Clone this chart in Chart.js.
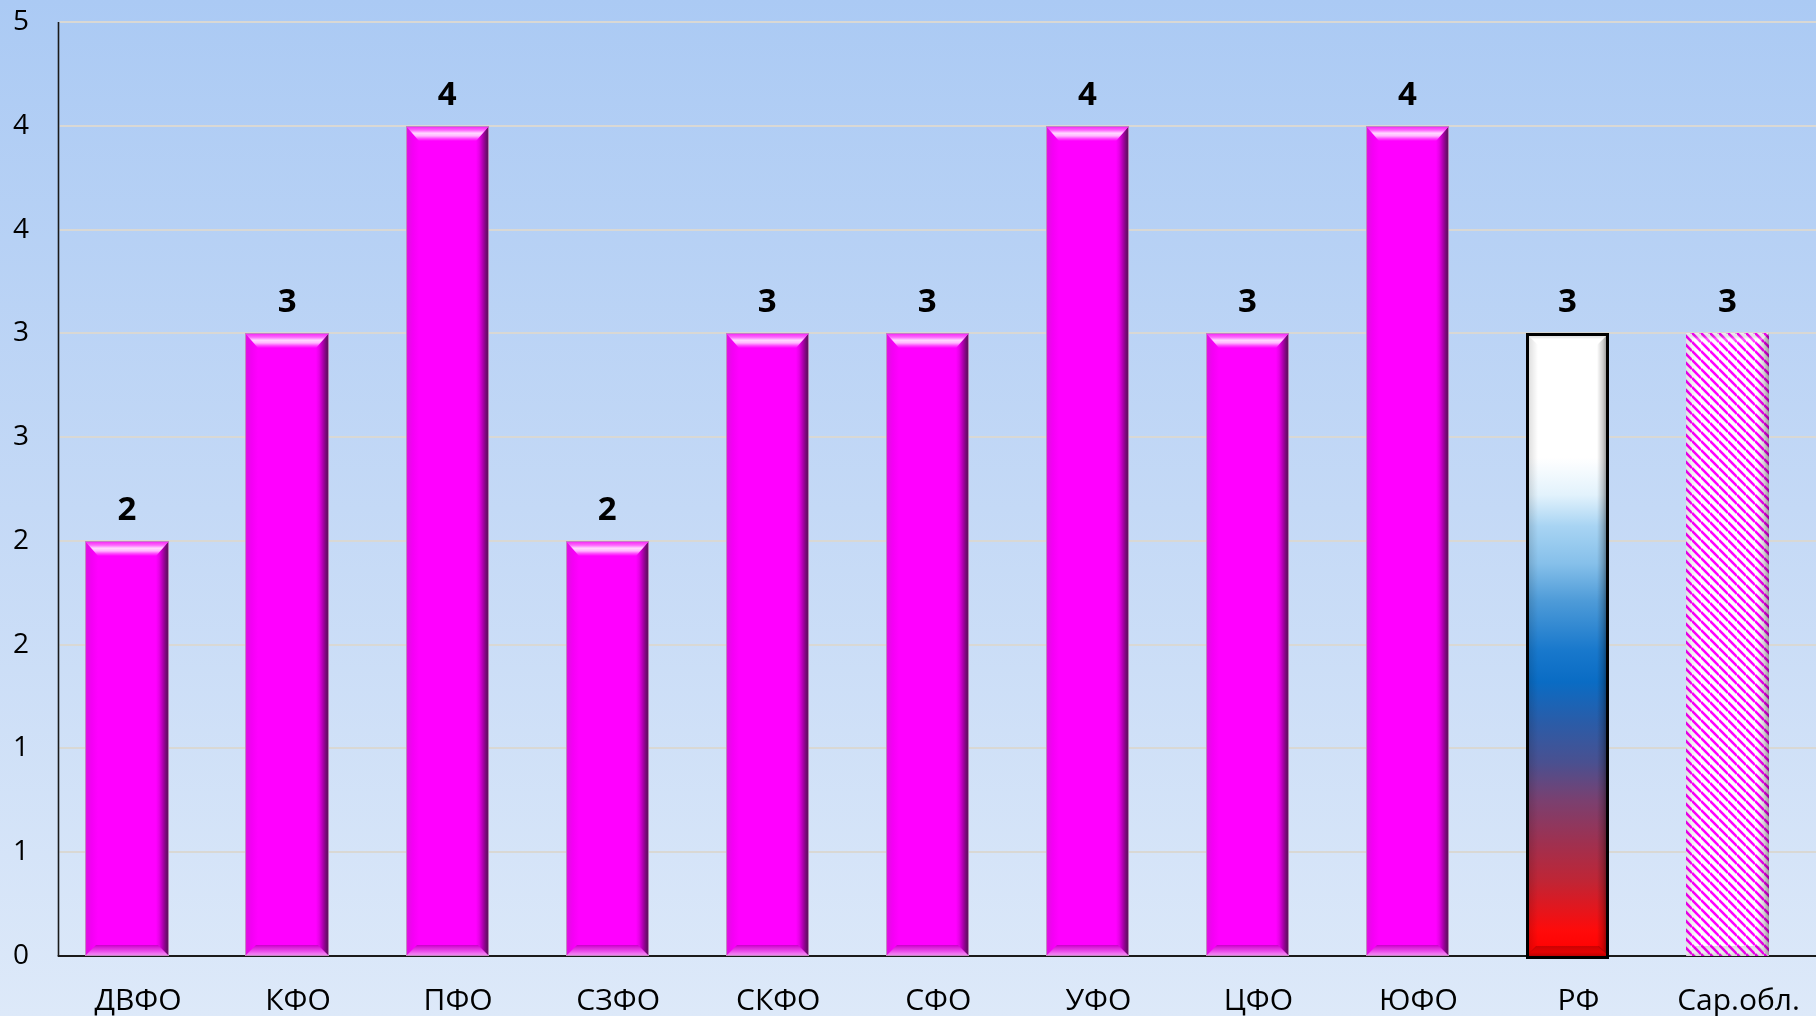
<!DOCTYPE html>
<html lang="ru">
<head>
<meta charset="utf-8">
<title>Показатель по федеральным округам</title>
<script src="https://cdn.jsdelivr.net/npm/chart.js@4.4.1/dist/chart.umd.min.js"></script>
<style>
  html, body { margin: 0; padding: 0; width: 1816px; height: 1016px; overflow: hidden; }
  body { background: linear-gradient(to bottom, #abcaf4 0%, #c4d9f6 50%, #dde9f9 100%); }
  canvas { display: block; }
</style>
</head>
<body>
<canvas id="chart" width="1816" height="1016"></canvas>
<script>
// Federal districts, Russia as a whole and the Saratov region
const categories = ['ДВФО', 'КФО', 'ПФО', 'СЗФО', 'СКФО', 'СФО', 'УФО', 'ЦФО', 'ЮФО', 'РФ', 'Сар.обл.'];
const values = [2, 3, 4, 2, 3, 3, 4, 3, 4, 3, 3];

// Value axis: half-unit steps, labels rounded to whole numbers
const yMin = 0;
const yMax = 4.5;
const yStep = 0.5;
const yTickLabel = v => String(Math.round(v));

const FONT = '"Open Sans", "Noto Sans", "DejaVu Sans", sans-serif';
const flagIndex = categories.indexOf('РФ');
const hatchIndex = categories.indexOf('Сар.обл.');

// Diagonal magenta hatch tile
function makeHatch() {
  const p = 9;
  const tile = document.createElement('canvas');
  tile.width = tile.height = p;
  const c = tile.getContext('2d');
  c.fillStyle = '#ffffff';
  c.fillRect(0, 0, p, p);
  c.strokeStyle = '#ff00ff';
  c.lineWidth = 2.6;
  for (const k of [-1, 0, 1]) {
    c.beginPath();
    c.moveTo(0, k * p);
    c.lineTo(p, k * p + p);
    c.stroke();
  }
  return tile;
}
const hatchTile = makeHatch();

function poly(ctx, pts, fill) {
  ctx.beginPath();
  ctx.moveTo(pts[0][0], pts[0][1]);
  for (let i = 1; i < pts.length; i++) ctx.lineTo(pts[i][0], pts[i][1]);
  ctx.closePath();
  ctx.fillStyle = fill;
  ctx.fill();
}

function hGrad(ctx, xa, xb, stops) {
  const g = ctx.createLinearGradient(xa, 0, xb, 0);
  stops.forEach(s => g.addColorStop(s[0], s[1]));
  return g;
}
function vGrad(ctx, ya, yb, stops) {
  const g = ctx.createLinearGradient(0, ya, 0, yb);
  stops.forEach(s => g.addColorStop(s[0], s[1]));
  return g;
}

// Bevelled magenta column
function paintBevel(ctx, x0, x1, top, bottom) {
  const w = x1 - x0, h = bottom - top;
  const b = 13, bt = 15, bb = 11;
  ctx.fillStyle = '#ff00ff';
  ctx.fillRect(x0, top, w, h);
  // left edge
  poly(ctx, [[x0, top], [x0 + b, top + bt], [x0 + b, bottom - bb], [x0, bottom]],
    hGrad(ctx, x0, x0 + b, [[0, '#e27ae2'], [0.12, '#e010e0'], [0.5, '#f400f4'], [1, '#ff00ff']]));
  // right edge
  poly(ctx, [[x1, top], [x1 - b, top + bt], [x1 - b, bottom - bb], [x1, bottom]],
    hGrad(ctx, x1 - b, x1, [[0, '#ff00ff'], [0.25, '#e600e6'], [0.55, '#a800a8'], [0.8, '#700a70'], [1, '#561a56']]));
  // top face
  poly(ctx, [[x0, top], [x1, top], [x1 - b, top + bt], [x0 + b, top + bt]],
    vGrad(ctx, top, top + bt, [[0, '#f020f0'], [0.28, '#ff66ff'], [0.48, '#ffd8ff'], [0.66, '#ffb8ff'], [0.85, '#ff44ff'], [1, '#ff00ff']]));
  // bottom face
  poly(ctx, [[x0, bottom], [x1, bottom], [x1 - bb, bottom - bb], [x0 + bb, bottom - bb]],
    vGrad(ctx, bottom - bb, bottom, [[0, '#c800c8'], [0.25, '#dc22dc'], [0.6, '#ec52ec'], [0.85, '#f282f2'], [1, '#d84ad8']]));
  ctx.strokeStyle = 'rgba(190,140,190,0.9)';
  ctx.lineWidth = 1;
  ctx.strokeRect(x0 + 0.5, top + 0.5, w - 1, h - 1);
}

// Shading shared by the flag and hatch columns
function paintShade(ctx, x0, x1, top, bottom, strength) {
  const b = 12, bt = 12, bb = 10;
  poly(ctx, [[x0, top], [x0 + b, top + bt], [x0 + b, bottom - bb], [x0, bottom]],
    hGrad(ctx, x0, x0 + b, [[0, 'rgba(0,0,0,' + 0.16 * strength + ')'], [1, 'rgba(0,0,0,0)']]));
  poly(ctx, [[x1, top], [x1 - b, top + bt], [x1 - b, bottom - bb], [x1, bottom]],
    hGrad(ctx, x1 - b, x1, [[0, 'rgba(0,0,0,0)'], [0.5, 'rgba(0,0,0,' + 0.2 * strength + ')'], [1, 'rgba(0,0,0,' + 0.55 * strength + ')']]));
  poly(ctx, [[x0, top], [x1, top], [x1 - b, top + bt], [x0 + b, top + bt]],
    vGrad(ctx, top, top + bt, [[0, 'rgba(0,0,0,' + 0.08 * strength + ')'], [0.5, 'rgba(255,255,255,0.35)'], [1, 'rgba(255,255,255,0)']]));
  poly(ctx, [[x0, bottom], [x1, bottom], [x1 - bb, bottom - bb], [x0 + bb, bottom - bb]],
    vGrad(ctx, bottom - bb, bottom, [[0, 'rgba(0,0,0,' + 0.2 * strength + ')'], [0.6, 'rgba(0,0,0,' + 0.1 * strength + ')'], [1, 'rgba(0,0,0,' + 0.25 * strength + ')']]));
}

function paintFlag(ctx, x0, x1, top, bottom) {
  const g = vGrad(ctx, top, bottom, [
    [0, '#ffffff'], [0.2, '#ffffff'], [0.26, '#e2f2fc'], [0.31, '#a8d4f3'], [0.37, '#86c0ea'],
    [0.43, '#4e9bd8'], [0.51, '#1878cc'], [0.56, '#0a6cc4'], [0.625, '#2a5ca8'], [0.69, '#4a5090'],
    [0.75, '#7a4070'], [0.82, '#a0304f'], [0.88, '#c02535'], [0.96, '#ff0a0a'], [1, '#ff0000']
  ]);
  ctx.fillStyle = g;
  ctx.fillRect(x0, top, x1 - x0, bottom - top);
  paintShade(ctx, x0, x1, top, bottom, 1);
  ctx.strokeStyle = '#000000';
  ctx.lineWidth = 3;
  ctx.strokeRect(x0 + 1.5, top + 1.5, x1 - x0 - 3, bottom - top);
}

function paintHatch(ctx, x0, x1, top, bottom) {
  ctx.fillStyle = ctx.createPattern(hatchTile, 'repeat');
  ctx.fillRect(x0, top, x1 - x0, bottom - top);
  paintShade(ctx, x0, x1, top, bottom, 0.7);
}

// Grid lines and axis lines drawn from the value scale
const axisX = 58.5;
const gridPlugin = {
  id: 'plotGrid',
  beforeDatasetsDraw(chart) {
    const { ctx, scales: { y }, width } = chart;
    ctx.save();
    ctx.strokeStyle = '#d9d8d4';
    ctx.lineWidth = 2;
    y.ticks.forEach(t => {
      if (t.value === yMin) return;
      const py = Math.round(y.getPixelForValue(t.value));
      ctx.beginPath();
      ctx.moveTo(axisX + 1, py);
      ctx.lineTo(width, py);
      ctx.stroke();
    });
    ctx.restore();
  },
  afterDatasetsDraw(chart) {
    const { ctx, scales: { y }, width } = chart;
    const y0 = y.getPixelForValue(yMin);
    const yTop = y.getPixelForValue(yMax);
    ctx.save();
    ctx.strokeStyle = '#1a1a1a';
    ctx.lineWidth = 1.6;
    ctx.beginPath();
    ctx.moveTo(axisX, yTop);
    ctx.lineTo(axisX, y0);
    ctx.stroke();
    ctx.lineWidth = 2;
    ctx.beginPath();
    ctx.moveTo(axisX - 0.8, y0);
    ctx.lineTo(width, y0);
    ctx.stroke();
    ctx.restore();
  }
};

// Column faces and value labels
const barPlugin = {
  id: 'columnFaces',
  afterDatasetsDraw(chart) {
    const { ctx } = chart;
    const meta = chart.getDatasetMeta(0);
    ctx.save();
    meta.data.forEach((el, i) => {
      const { x, y, base, width } = el.getProps(['x', 'y', 'base', 'width'], true);
      const x0 = Math.round(x - width / 2), x1 = Math.round(x + width / 2);
      const top = Math.round(y), bottom = Math.round(base);
      if (i === flagIndex) paintFlag(ctx, x0, x1, top, bottom);
      else if (i === hatchIndex) paintHatch(ctx, x0, x1, top, bottom);
      else paintBevel(ctx, x0, x1, top, bottom);
    });
    ctx.fillStyle = '#000000';
    ctx.font = 'bold 33px ' + FONT;
    ctx.textAlign = 'center';
    ctx.textBaseline = 'alphabetic';
    meta.data.forEach((el, i) => {
      ctx.fillText(String(values[i]), el.x, el.y - 21);
    });
    ctx.restore();
  }
};

new Chart(document.getElementById('chart'), {
  type: 'bar',
  data: {
    labels: categories,
    datasets: [{
      data: values,
      backgroundColor: 'rgba(0,0,0,0)',
      borderWidth: 0,
      barPercentage: 0.52,
      categoryPercentage: 1
    }]
  },
  options: {
    responsive: false,
    animation: false,
    events: [],
    layout: { padding: { top: 22, right: 2, left: 0, bottom: 0 } },
    plugins: { legend: { display: false }, tooltip: { enabled: false } },
    scales: {
      x: {
        type: 'category',
        offset: true,
        grid: { display: false, drawTicks: false },
        border: { display: false },
        ticks: {
          color: '#000000',
          font: { family: FONT, size: 30 },
          padding: 27,
          labelOffset: 11,
          maxRotation: 0,
          autoSkip: false
        },
        afterFit(scale) { scale.height = 60; }
      },
      y: {
        min: yMin,
        max: yMax,
        grid: { display: false, drawTicks: false },
        border: { display: false },
        ticks: {
          stepSize: yStep,
          color: '#000000',
          font: { family: FONT, size: 28 },
          padding: 18,
          callback: yTickLabel
        },
        afterFit(scale) {
          scale.width = 47;
          scale.paddingTop = 0;
          scale.paddingBottom = 0;
        }
      }
    }
  },
  plugins: [gridPlugin, barPlugin]
});
</script>
</body>
</html>
